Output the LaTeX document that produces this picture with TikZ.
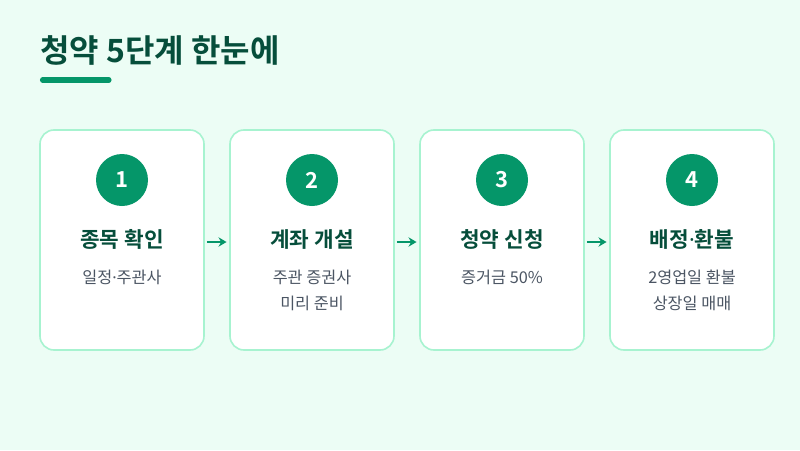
\documentclass[tikz,border=0pt]{standalone}
\usepackage{fontspec}
\setmainfont{Noto Sans CJK KR}
\newfontfamily\krb{Noto Sans CJK KR Bold}
\newfontfamily\dotf{Noto Sans}
\newcommand{\mdt}{{\dotf ·}}
\usetikzlibrary{arrows.meta}
\definecolor{bgc}{HTML}{ECFDF5}
\definecolor{bord}{HTML}{A7F3D0}
\definecolor{emer}{HTML}{059669}
\definecolor{dark}{HTML}{064E3B}
\definecolor{grayt}{HTML}{4B5563}
\tikzset{
  card/.style={draw=bord, line width=1.2pt, fill=white, rounded corners=10.5pt, minimum width=123pt, minimum height=165pt, inner sep=0pt},
  numc/.style={circle, fill=emer, minimum size=39pt, inner sep=0pt, text=white, font=\krb\fontsize{16.5}{16.5}\selectfont},
  ttl/.style={text=dark, font=\krb\fontsize{16}{18}\selectfont, inner sep=0pt},
  sub/.style={text=grayt, font=\fontsize{12.2}{19.5}\selectfont, align=center, inner sep=0pt, anchor=north},
  arr/.style={draw=emer, line width=1.8pt, -{Stealth[length=6pt,width=7pt]}}
}
\begin{document}
\begin{tikzpicture}[x=0.75pt,y=-0.75pt]
\fill[bgc] (0,0) rectangle (800,450);
\useasboundingbox (0,0) rectangle (800,450);
\node[anchor=west, text=dark, font=\krb\fontsize{24}{26}\selectfont, inner sep=0pt] (title) at (40,50) {청약 5단계 한눈에};
\draw[emer, line width=3.8pt, line cap=round] (42.5,80) -- (109,80);
\foreach \i/\x/\n/\t/\s in {1/122/1/종목 확인/{일정\mdt 주관사}, 2/312/2/계좌 개설/{주관 증권사\\미리 준비}, 3/502/3/청약 신청/{증거금 50\%}, 4/692/4/배정\mdt 환불/{2영업일 환불\\상장일 매매}} {
  \node[card] (c\i) at (\x,240) {};
  \node[numc] (n\i) at (\x,180) {\n};
  \node[ttl] (t\i) at (\x,239) {\t};
  \node[sub] (s\i) at (\x,270) {\s};
}
\coordinate (a1s) at (206,242); \coordinate (a1e) at (228,242);
\draw[arr] ([xshift=1.5pt]c1.east |- a1s) -- ([xshift=-2pt]c2.west |- a1e);
\draw[arr] ([xshift=1.5pt]c2.east |- a1s) -- ([xshift=-2pt]c3.west |- a1e);
\draw[arr] ([xshift=1.5pt]c3.east |- a1s) -- ([xshift=-2pt]c4.west |- a1e);
\end{tikzpicture}
\end{document}
